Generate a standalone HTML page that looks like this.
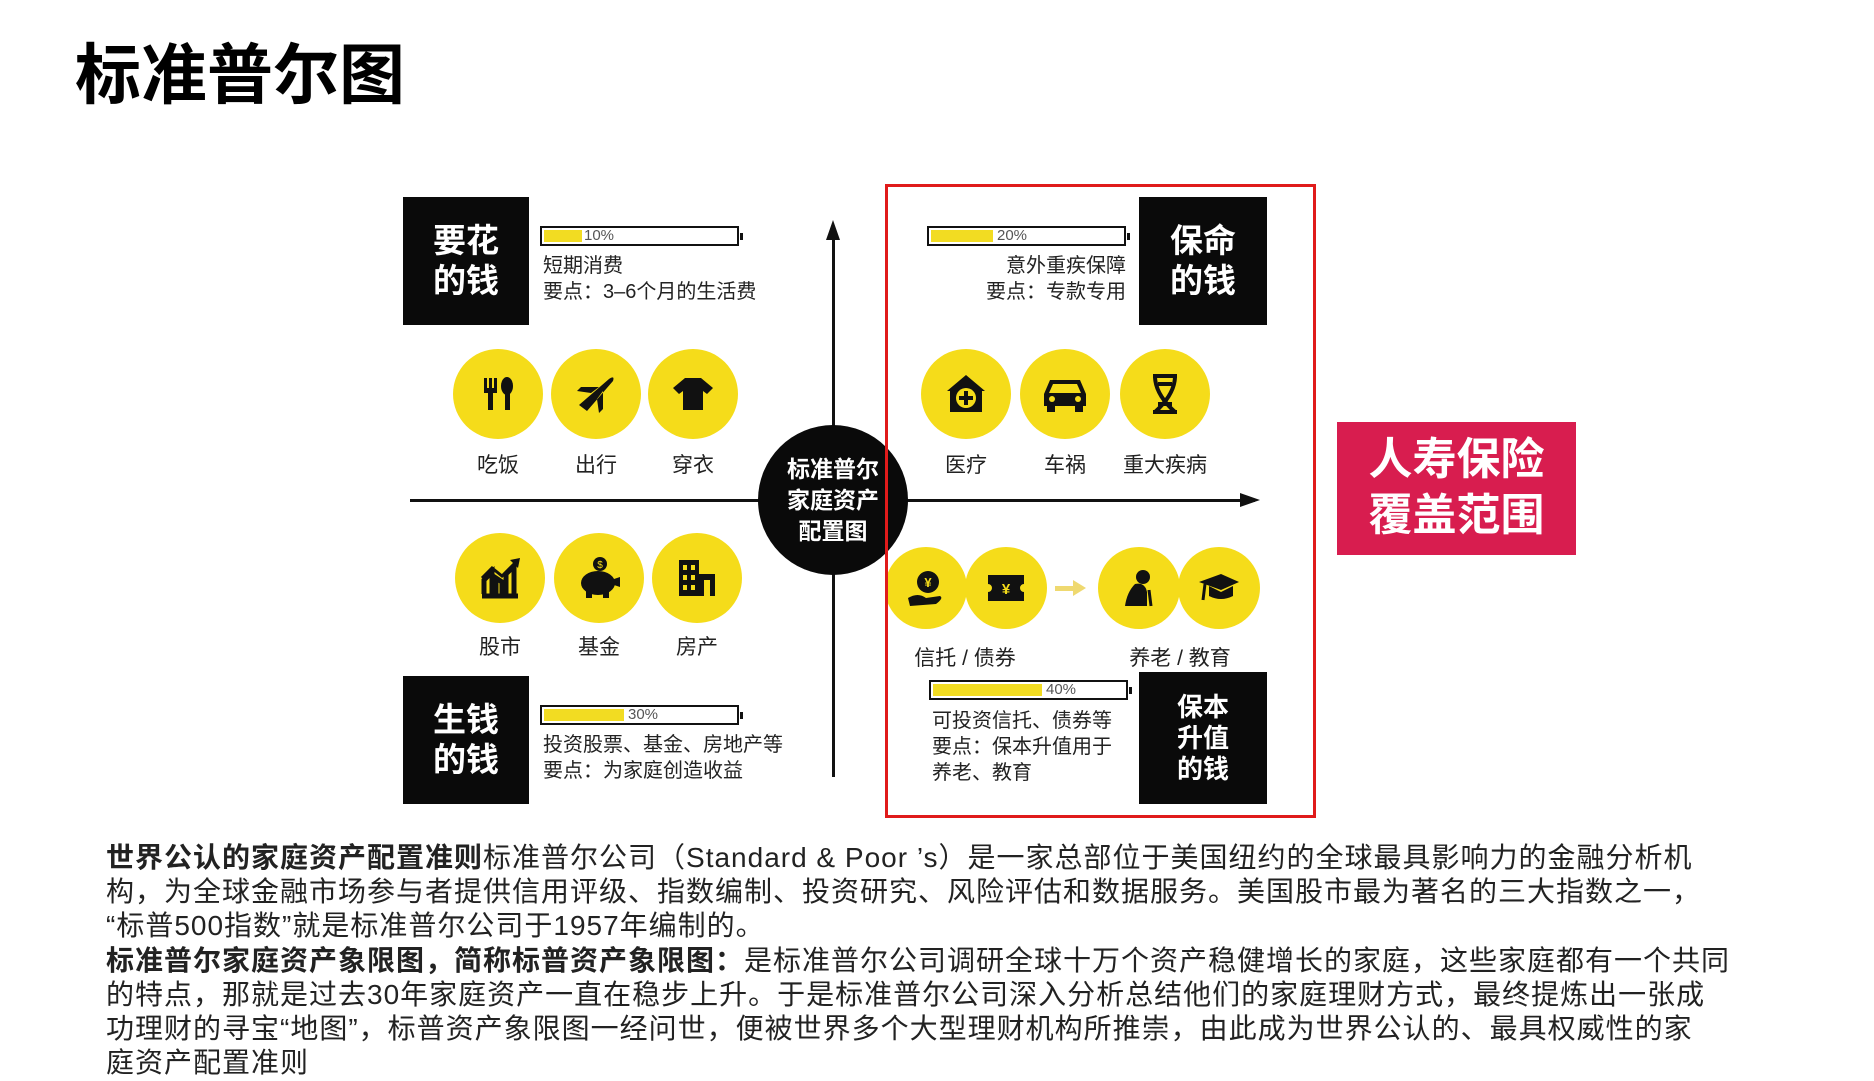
<!DOCTYPE html>
<html><head><meta charset="utf-8">
<style>
*{margin:0;padding:0;box-sizing:border-box}
body{width:1874px;height:1080px;background:#fff;position:relative;overflow:hidden;font-family:"Liberation Sans","Noto Sans CJK SC",sans-serif;color:#111}
.a{position:absolute}
.box{position:absolute;background:#0a0a0a;color:#fff;font-weight:bold;font-size:33px;line-height:40px;display:flex;align-items:center;justify-content:center;text-align:center}
.bar{position:absolute;height:20px;border:2px solid #111;background:#fff}
.bar i{position:absolute;left:2px;top:2px;bottom:2px;background:#f2dc22}
.bar b{position:absolute;top:-1px;font-weight:normal;font-size:15px;color:#555}
.bar:after{content:"";position:absolute;right:-6px;top:5px;width:3px;height:7px;background:#111}
.c{position:absolute;border-radius:50%;background:#f5dc1a;display:flex;align-items:center;justify-content:center}
.lb{position:absolute;font-size:21px;color:#222;text-align:center;width:120px}
.t{position:absolute;font-size:20px;color:#222;line-height:26px;white-space:nowrap}
.p{position:absolute;left:106px;font-size:28px;color:#222;white-space:nowrap;letter-spacing:1px}
</style></head><body>
<div class="a" style="left:75px;top:22px;font-size:66px;font-weight:bold;color:#000;letter-spacing:0">标准普尔图</div>

<div class="a" style="left:410px;top:499px;width:845px;height:3px;background:#111"></div>
<div class="a" style="left:1240px;top:493px;border-left:20px solid #111;border-top:7px solid transparent;border-bottom:7px solid transparent"></div>
<div class="a" style="left:832px;top:235px;width:3px;height:542px;background:#111"></div>
<div class="a" style="left:826px;top:220px;border-bottom:20px solid #111;border-left:7px solid transparent;border-right:7px solid transparent"></div>
<div class="a" style="left:758px;top:425px;width:150px;height:150px;border-radius:50%;background:#0a0a0a;color:#fff;font-weight:bold;font-size:23px;line-height:31px;text-align:center;padding-top:29px">标准普尔<br>家庭资产<br>配置图</div>

<div class="box" style="left:403px;top:197px;width:126px;height:128px">要花<br>的钱</div>
<div class="box" style="left:1139px;top:197px;width:128px;height:128px">保命<br>的钱</div>
<div class="box" style="left:403px;top:676px;width:126px;height:128px">生钱<br>的钱</div>
<div class="box" style="left:1139px;top:672px;width:128px;height:132px;font-size:26px;line-height:31px">保本<br>升值<br>的钱</div>

<div class="bar" style="left:540px;top:226px;width:199px"><i style="width:38px"></i><b style="left:42px">10%</b></div>
<div class="bar" style="left:927px;top:226px;width:199px"><i style="width:62px"></i><b style="left:68px">20%</b></div>
<div class="bar" style="left:540px;top:705px;width:199px"><i style="width:80px"></i><b style="left:86px">30%</b></div>
<div class="bar" style="left:929px;top:680px;width:199px"><i style="width:109px"></i><b style="left:115px">40%</b></div>

<div class="t" style="left:543px;top:253px">短期消费<br>要点：3–6个月的生活费</div>
<div class="t" style="left:940px;top:253px;width:186px;text-align:right">意外重疾保障<br>要点：专款专用</div>
<div class="t" style="left:543px;top:732px">投资股票、基金、房地产等<br>要点：为家庭创造收益</div>
<div class="t" style="left:932px;top:708px">可投资信托、债券等<br>要点：保本升值用于<br>养老、教育</div>

<div class="c" style="left:453px;top:349px;width:90px;height:90px"><svg width="40" height="40" viewBox="0 0 40 40"><rect x="6" y="4" width="3" height="12" fill="#111"/><rect x="11" y="4" width="3" height="12" fill="#111"/><rect x="16" y="4" width="3" height="12" fill="#111"/><rect x="6" y="14" width="13" height="5" fill="#111"/><rect x="10" y="17" width="5" height="19" fill="#111"/><ellipse cx="29" cy="12" rx="6" ry="9" fill="#111"/><rect x="27" y="18" width="5" height="18" fill="#111"/></svg></div>
<div class="c" style="left:551px;top:349px;width:90px;height:90px"><svg width="46" height="46" viewBox="0 0 46 46"><path d="M6 34 L36 8 Q42 4 40 10 L14 40 Z M18 22 L4 20 L8 16 L26 16 Z M24 28 L26 42 L30 38 L30 20Z" fill="#111"/></svg></div>
<div class="c" style="left:648px;top:349px;width:90px;height:90px"><svg width="44" height="44" viewBox="0 0 44 44"><path d="M14 6 L30 6 L42 16 L36 22 L32 19 L32 38 L12 38 L12 19 L8 22 L2 16 Z" fill="#111"/></svg></div>
<div class="lb" style="left:438px;top:449px">吃饭</div>
<div class="lb" style="left:536px;top:449px">出行</div>
<div class="lb" style="left:633px;top:449px">穿衣</div>

<div class="c" style="left:921px;top:349px;width:90px;height:90px"><svg width="44" height="44" viewBox="0 0 44 44"><path d="M22 3 L41 19 L38 19 L38 40 L6 40 L6 19 L3 19 Z" fill="#111"/><circle cx="22" cy="26" r="10" fill="#f5dc1a"/><rect x="20" y="19" width="4" height="14" fill="#111"/><rect x="15" y="24" width="14" height="4" fill="#111"/></svg></div>
<div class="c" style="left:1020px;top:349px;width:90px;height:90px"><svg width="50" height="40" viewBox="0 0 50 40"><path d="M10 6 L40 6 L46 20 L46 32 L4 32 L4 20 Z" fill="#111"/><path d="M13 10 L37 10 L41 19 L9 19Z" fill="#f5dc1a"/><rect x="7" y="30" width="8" height="8" fill="#111"/><rect x="35" y="30" width="8" height="8" fill="#111"/><circle cx="12" cy="25" r="3" fill="#f5dc1a"/><circle cx="38" cy="25" r="3" fill="#f5dc1a"/></svg></div>
<div class="c" style="left:1120px;top:349px;width:90px;height:90px"><svg width="40" height="44" viewBox="0 0 40 44"><path d="M8 4 L32 4 M8 40 L32 40 M10 4 Q10 22 30 40 M30 4 Q30 22 10 40 M13 12 L27 12 M13 32 L27 32" stroke="#111" stroke-width="4" fill="none"/></svg></div>
<div class="lb" style="left:906px;top:449px">医疗</div>
<div class="lb" style="left:1005px;top:449px">车祸</div>
<div class="lb" style="left:1100px;top:449px;width:130px">重大疾病</div>

<div class="c" style="left:455px;top:533px;width:90px;height:90px"><svg width="44" height="44" viewBox="0 0 44 44"><path d="M4 40 L40 40 M6 38 L6 24 L14 16 L14 38 M18 38 L18 22 L24 26 L24 38 M28 38 L28 18 L36 10 L36 38" stroke="#111" stroke-width="5" fill="none"/><path d="M4 22 L14 12 L24 20 L38 6" stroke="#111" stroke-width="3" fill="none"/><path d="M32 4 L42 2 L40 12Z" fill="#111"/></svg></div>
<div class="c" style="left:554px;top:533px;width:90px;height:90px"><svg width="46" height="46" viewBox="0 0 46 46"><ellipse cx="22" cy="28" rx="17" ry="12" fill="#111"/><rect x="10" y="34" width="6" height="9" fill="#111"/><rect x="27" y="34" width="6" height="9" fill="#111"/><path d="M38 24 L44 22 L44 32 L38 30Z" fill="#111"/><circle cx="24" cy="9" r="7" fill="#111"/><text x="24" y="13" font-size="10" fill="#f5dc1a" text-anchor="middle" font-family="Liberation Sans">$</text></svg></div>
<div class="c" style="left:652px;top:533px;width:90px;height:90px"><svg width="44" height="44" viewBox="0 0 44 44"><rect x="4" y="4" width="20" height="36" fill="#111"/><rect x="24" y="18" width="16" height="22" fill="#111"/><g fill="#f5dc1a"><rect x="8" y="9" width="4" height="5"/><rect x="16" y="9" width="4" height="5"/><rect x="8" y="19" width="4" height="5"/><rect x="16" y="19" width="4" height="5"/><rect x="8" y="29" width="4" height="5"/><rect x="16" y="29" width="4" height="5"/><rect x="29" y="24" width="6" height="16"/></g></svg></div>
<div class="lb" style="left:440px;top:631px">股市</div>
<div class="lb" style="left:539px;top:631px">基金</div>
<div class="lb" style="left:637px;top:631px">房产</div>

<div class="c" style="left:885px;top:547px;width:82px;height:82px"><svg width="40" height="40" viewBox="0 0 40 40"><circle cx="22" cy="14" r="11" fill="#111"/><text x="22" y="19" font-size="13" fill="#f5dc1a" text-anchor="middle" font-weight="bold" font-family="Liberation Sans">¥</text><path d="M2 30 Q12 24 20 30 L34 28 Q38 30 30 36 L4 38Z" fill="#111"/></svg></div>
<div class="c" style="left:965px;top:547px;width:82px;height:82px"><svg width="40" height="34" viewBox="0 0 40 34"><path d="M2 4 L38 4 L38 13 A4 4 0 0 0 38 21 L38 30 L2 30 L2 21 A4 4 0 0 0 2 13 Z" fill="#111"/><text x="20" y="23" font-size="15" fill="#f5dc1a" text-anchor="middle" font-weight="bold" font-family="Liberation Sans">¥</text></svg></div>
<div class="a" style="left:1055px;top:586px;width:20px;height:5px;background:#efd970"></div>
<div class="a" style="left:1073px;top:580px;border-left:13px solid #efd970;border-top:8px solid transparent;border-bottom:8px solid transparent"></div>
<div class="c" style="left:1098px;top:547px;width:82px;height:82px"><svg width="40" height="40" viewBox="0 0 40 40"><circle cx="24" cy="9" r="7" fill="#111"/><path d="M16 16 Q26 14 28 24 L28 38 L6 38 Q8 24 16 16Z" fill="#111"/><path d="M30 22 L32 38" stroke="#111" stroke-width="3"/></svg></div>
<div class="c" style="left:1178px;top:547px;width:82px;height:82px"><svg width="44" height="36" viewBox="0 0 44 36"><path d="M2 12 L24 4 L42 12 L24 20Z" fill="#111"/><path d="M12 16 L12 26 Q24 32 36 26 L36 16 L24 22Z" fill="#111"/><path d="M8 14 L6 30" stroke="#111" stroke-width="3"/></svg></div>
<div class="lb" style="left:900px;top:642px;width:130px">信托 / 债券</div>
<div class="lb" style="left:1115px;top:642px;width:130px">养老 / 教育</div>

<div class="a" style="left:885px;top:184px;width:431px;height:634px;border:3px solid #e01b1b"></div>
<div class="a" style="left:1337px;top:422px;width:239px;height:133px;background:#d81d4f;color:#fff;font-weight:bold;font-size:44px;line-height:56px;text-align:center;padding-top:10px">人寿保险<br>覆盖范围</div>

<div class="p" style="top:836px"><b>世界公认的家庭资产配置准则</b>标准普尔公司（Standard &amp; Poor ’s）是一家总部位于美国纽约的全球最具影响力的金融分析机</div>
<div class="p" style="top:870px">构，为全球金融市场参与者提供信用评级、指数编制、投资研究、风险评估和数据服务。美国股市最为著名的三大指数之一，</div>
<div class="p" style="top:904px">“标普500指数”就是标准普尔公司于1957年编制的。</div>
<div class="p" style="top:939px"><b>标准普尔家庭资产象限图，简称标普资产象限图：</b>是标准普尔公司调研全球十万个资产稳健增长的家庭，这些家庭都有一个共同</div>
<div class="p" style="top:973px">的特点，那就是过去30年家庭资产一直在稳步上升。于是标准普尔公司深入分析总结他们的家庭理财方式，最终提炼出一张成</div>
<div class="p" style="top:1007px">功理财的寻宝“地图”，标普资产象限图一经问世，便被世界多个大型理财机构所推崇，由此成为世界公认的、最具权威性的家</div>
<div class="p" style="top:1041px">庭资产配置准则</div>
</body></html>
